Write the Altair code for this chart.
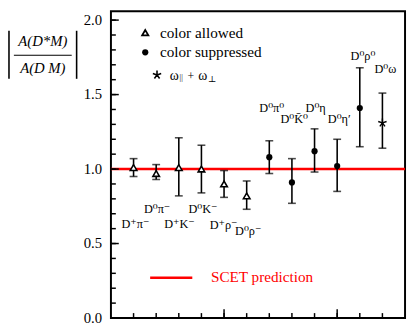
import altair as alt
import pandas as pd

# ---- data ----
labels = ["D⁺π⁻", "D⁰π⁻", "D⁺K⁻", "D⁰K⁻", "D⁺ρ⁻", "D⁰ρ⁻",
          "D⁰π⁰", "D⁰K̄⁰", "D⁰η", "D⁰η′", "D⁰ρ⁰", "D⁰ω"]
xpos = [1, 2, 3, 4, 5, 6, 7, 8, 9, 10, 11, 12]
kind = ["allowed"] * 6 + ["suppressed"] * 5 + ["omega"]
value = [1.01, 0.97, 1.01, 1.00, 0.90, 0.82, 1.08, 0.91, 1.12, 1.02, 1.41, 1.31]
err_lo = [0.95, 0.93, 0.82, 0.84, 0.81, 0.73, 0.97, 0.77, 0.98, 0.85, 1.15, 1.14]
err_hi = [1.07, 1.03, 1.21, 1.16, 0.99, 0.92, 1.19, 1.07, 1.27, 1.20, 1.68, 1.51]
label_x = [1.08, 2.04, 3.03, 4.07, 4.98, 6.07, 7.11, 8.10, 9.05, 10.09, 11.14, 12.13]
label_y = [0.63, 0.73, 0.63, 0.73, 0.625, 0.585, 1.41, 1.335, 1.41, 1.335, 1.76, 1.67]
scet_value = [1.0]
ytick_vals = [0.0, 0.1, 0.2, 0.3, 0.4, 0.5, 0.6, 0.7, 0.8, 0.9, 1.0,
              1.1, 1.2, 1.3, 1.4, 1.5, 1.6, 1.7, 1.8, 1.9, 2.0]
ytick_major = [0.0, 0.5, 1.0, 1.5, 2.0]
ytick_text = ["0.0", "0.5", "1.0", "1.5", "2.0"]
xtick_vals = [1, 2, 3, 4, 5, 6, 7, 8, 9, 10, 11, 12]
xtick_major = [5, 10]

FONT = "Liberation Serif, DejaVu Serif, serif"
W, H = 300, 313

df = pd.DataFrame({"label": labels, "x": xpos, "kind": kind, "v": value,
                   "lo": err_lo, "hi": err_hi, "lx": label_x, "ly": label_y})

xs = alt.Scale(domain=[0, 13], nice=False, zero=False)
ys = alt.Scale(domain=[0, 2.06], nice=False, zero=False)
X = lambda f: alt.X(f, type="quantitative", scale=xs, axis=None)
Y = lambda f: alt.Y(f, type="quantitative", scale=ys, axis=None)

base = alt.Chart(df)

ylabels = alt.Chart(pd.DataFrame({"y": ytick_major, "t": ytick_text})).mark_text(
    font=FONT, fontSize=15, color="black", align="right", baseline="middle").encode(
    y=Y("y"), x=alt.value(-9), text="t:N")

scet = alt.Chart(pd.DataFrame({"y": scet_value})).mark_rule(
    color="#ff0000", strokeWidth=2.5).encode(y=Y("y"))

yticks = alt.Chart(pd.DataFrame({"y": ytick_vals})).mark_rule(
    color="black", strokeWidth=1.5).encode(y=Y("y"), x=alt.value(0), x2=alt.value(5))
yticks_major = alt.Chart(pd.DataFrame({"y": ytick_major})).mark_rule(
    color="black", strokeWidth=1.5).encode(y=Y("y"), x=alt.value(0), x2=alt.value(8))

xticks = alt.Chart(pd.DataFrame({"x": xtick_vals})).mark_rule(
    color="black", strokeWidth=1.5).encode(x=X("x"), y=alt.value(H), y2=alt.value(H - 5))
xticks_major = alt.Chart(pd.DataFrame({"x": xtick_major})).mark_rule(
    color="black", strokeWidth=1.5).encode(x=X("x"), y=alt.value(H), y2=alt.value(H - 9))

ebar = base.mark_rule(color="black", strokeWidth=1.6).encode(
    x=X("x"), y=Y("lo"), y2="hi")
cap_hi = base.mark_tick(color="black", orient="horizontal", size=8, thickness=1.6).encode(
    x=X("x"), y=Y("hi"))
cap_lo = base.mark_tick(color="black", orient="horizontal", size=8, thickness=1.6).encode(
    x=X("x"), y=Y("lo"))

tri = base.transform_filter("datum.kind == 'allowed'").mark_point(
    shape="triangle-up", filled=True, fill="white", stroke="black", strokeWidth=1.6,
    size=45, opacity=1).encode(x=X("x"), y=Y("v"))
circ = base.transform_filter("datum.kind == 'suppressed'").mark_point(
    shape="circle", filled=True, color="black", size=40, opacity=1).encode(x=X("x"), y=Y("v"))
STAR = "M0,-1L0,0M0,0L0.95,-0.31M0,0L0.59,0.81M0,0L-0.59,0.81M0,0L-0.95,-0.31"
star = base.transform_filter("datum.kind == 'omega'").mark_point(
    shape=STAR, filled=False, stroke="black", strokeWidth=1.4, size=80,
    opacity=1).encode(x=X("x"), y=Y("v"))

lab = base.mark_text(font=FONT, fontSize=12.5, color="black", baseline="middle").encode(
    x=X("lx"), y=Y("ly"), text="label:N")

one = alt.Data(values=[{}])
def txt(s, x, y, size=14, color="black", align="left", style="normal"):
    return alt.Chart(one).mark_text(text=s, font=FONT, fontSize=size, color=color,
                                    align=align, baseline="middle", fontStyle=style).encode(
        x=alt.value(x), y=alt.value(y))
def pt(shape, x, y, **kw):
    return alt.Chart(one).mark_point(shape=shape, opacity=1, **kw).encode(
        x=alt.value(x), y=alt.value(y))
def rule(x, y, x2=None, y2=None, color="black", w=1.5):
    enc = dict(x=alt.value(x), y=alt.value(y))
    if x2 is not None:
        enc["x2"] = alt.value(x2)
    if y2 is not None:
        enc["y2"] = alt.value(y2)
    return alt.Chart(one).mark_rule(color=color, strokeWidth=w).encode(**enc)

legend = [
    pt("triangle-up", 35, 22, filled=True, fill="white", stroke="black", strokeWidth=1.8, size=40),
    txt("color allowed", 50, 22, size=15.5),
    pt("circle", 35, 42, filled=True, color="black", size=40),
    txt("color suppressed", 50, 42, size=15.5),
    pt(STAR, 47, 65, filled=False, stroke="black", strokeWidth=1.6, size=80),
    txt("ω", 60, 66, size=14),
    txt("||", 70, 68, size=8),
    txt("+", 78, 66, size=12),
    txt("ω", 89, 66, size=14),
    txt("⊥", 99, 69, size=9),
    rule(40, 272, x2=83, color="#ff0000", w=2.5),
    txt("SCET  prediction", 102, 271, size=15.5, color="#ff0000"),
]

ytitle = [
    rule(-104, 20, y2=69, w=1.6),
    rule(-35, 20, y2=69, w=1.6),
    rule(-99, 45, x2=-40, w=1.2),
    txt("A(D*M)", -69.5, 31, size=15, align="center", style="italic"),
    txt("A(D M)", -69.5, 58, size=15, align="center", style="italic"),
]

chart = alt.layer(
    scet, ylabels, yticks, yticks_major, xticks, xticks_major,
    ebar, cap_hi, cap_lo, tri, circ, star, lab, *legend, *ytitle
).properties(
    width=W, height=H,
    autosize=alt.AutoSizeParams(type="none"),
    padding={"left": 105, "top": 0, "right": 2, "bottom": 9},
).configure_view(stroke="black", strokeWidth=2)

chart.save("out.html", embed_options={"renderer": "svg", "actions": False})
